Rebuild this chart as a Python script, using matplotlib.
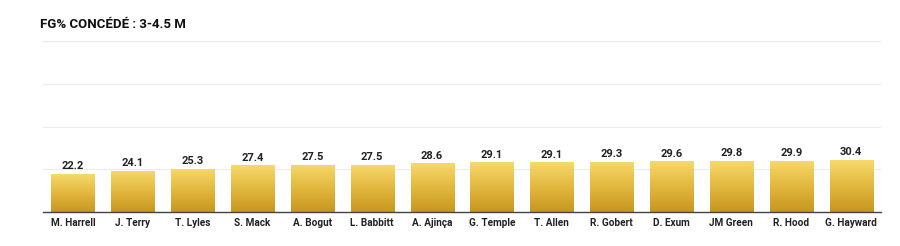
import matplotlib
matplotlib.use("Agg")
import matplotlib.pyplot as plt
import numpy as np
from matplotlib.colors import LinearSegmentedColormap

players = ["M. Harrell", "J. Terry", "T. Lyles", "S. Mack", "A. Bogut", "L. Babbitt",
           "A. Ajinça", "G. Temple", "T. Allen", "R. Gobert", "D. Exum", "JM Green",
           "R. Hood", "G. Hayward"]
values = [22.2, 24.1, 25.3, 27.4, 27.5, 27.5, 28.6, 29.1, 29.1, 29.3, 29.6, 29.8, 29.9, 30.4]
title = "FG% CONCÉDÉ : 3-4.5 M"

plt.rcParams['font.family'] = ['Roboto', 'DejaVu Sans']

fig = plt.figure(figsize=(9, 2.46), dpi=100)
ax = fig.add_axes([43/900, 1 - 212/246, (881-43)/900, (212-41)/246])

x = np.arange(len(players))
bars = ax.bar(x, values, width=0.72, color='none', zorder=3)
cmap = LinearSegmentedColormap.from_list("gold", ["#c8961f", "#e2b83f", "#f7d96b"])
grad = np.linspace(0, 1, 256).reshape(-1, 1)
for b in bars:
    bx, by = b.get_x(), b.get_y()
    w, h = b.get_width(), b.get_height()
    im = ax.imshow(grad, extent=[bx, bx + w, by, by + h], origin='lower',
                   cmap=cmap, aspect='auto', zorder=3)
    im.set_clip_path(b)

for xi, v in zip(x, values):
    ax.text(xi, v + 1.5, f"{v}", ha='center', va='bottom', fontsize=8,
            fontweight='bold', color='#222222', zorder=4)

ax.set_xlim(-0.5, len(players) - 0.5)
ax.set_ylim(0, 100)
ax.set_yticks([0, 25, 50, 75, 100])
ax.yaxis.grid(True, color='#ececec', linewidth=0.8, zorder=0)
ax.set_yticklabels([])
ax.tick_params(axis='y', length=0)
ax.set_xticks(x)
ax.set_xticklabels(players, fontsize=7.2, fontweight='bold', color='#222222')
ax.tick_params(axis='x', length=0, pad=4)
for s in ['top', 'right', 'left']:
    ax.spines[s].set_visible(False)
ax.spines['bottom'].set_color('#444444')
ax.spines['bottom'].set_linewidth(1)
ax.spines['bottom'].set_zorder(5)

fig.text(40/900, 1 - 25/246, title, fontsize=9.5, fontweight='bold', color='#111111',
         ha='left', va='center')

fig.savefig("out.png", dpi=100, facecolor='white')
